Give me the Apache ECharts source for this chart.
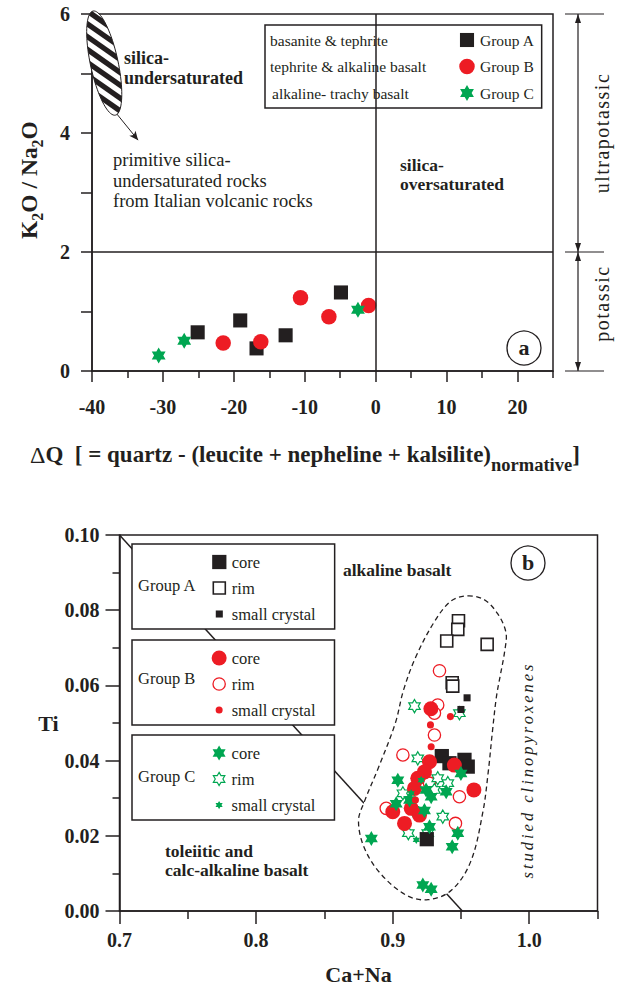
<!DOCTYPE html>
<html>
<head>
<meta charset="utf-8">
<title>K2O/Na2O vs ΔQ and Ti vs Ca+Na</title>
<script src="https://cdn.jsdelivr.net/npm/echarts@6.0.0/dist/echarts.min.js"></script>
<style>
  html, body { margin: 0; padding: 0; background: #fff; }
  #main { width: 617px; height: 987px; }
</style>
</head>
<body>
<div id="main"></div>
<script>
/* ---------- panel (a): K2O/Na2O against ΔQ ---------- */
const deltaQTicks = [-40, -30, -20, -10, 0, 10, 20];
const deltaQMinorTicks = [-35, -25, -15, -5, 5, 15, 25];

const groupA_dQ    = [-25.1, -19.1, -16.8, -12.7, -4.9];
const groupA_ratio = [0.65, 0.85, 0.38, 0.60, 1.32];
const groupB_dQ    = [-21.5, -16.2, -10.6, -6.6, -1.0];
const groupB_ratio = [0.47, 0.49, 1.23, 0.91, 1.10];
const groupC_dQ    = [-30.6, -27.0, -2.5];
const groupC_ratio = [0.26, 0.51, 1.03];

// field of the Italian primitive rocks: the two ends of its long axis
const italianFieldEnds = [[-39.85, 6.05], [-36.7, 4.3]];
const italianFieldPointer = [[-36.5, 4.32], [-33.5, 3.88]];
const potassicLimit = 2;    // K2O/Na2O boundary
const saturationLimit = 0;  // ΔQ boundary

/* ---------- panel (b): Ti against Ca+Na ---------- */
const caNaTicks = [0.7, 0.8, 0.9, 1.0];
const caNaMinorTicks = [0.75, 0.85, 0.95, 1.05];

const groupA_core_CaNa  = [0.936, 0.9416, 0.9526, 0.955, 0.925];
const groupA_core_Ti    = [0.0412, 0.0393, 0.0402, 0.0384, 0.0191];
const groupA_rim_CaNa   = [0.9482, 0.9477, 0.9396, 0.9692, 0.9436, 0.944];
const groupA_rim_Ti     = [0.0772, 0.0749, 0.0718, 0.0709, 0.0607, 0.0598];
const groupA_small_CaNa = [0.9545, 0.950];
const groupA_small_Ti   = [0.0567, 0.0536];

const groupB_core_CaNa  = [0.928, 0.927, 0.9233, 0.9184, 0.916, 0.9452, 0.9595, 0.9001, 0.9087, 0.9136, 0.9197];
const groupB_core_Ti    = [0.0538, 0.0397, 0.037, 0.0353, 0.0326, 0.0388, 0.0322, 0.0264, 0.0233, 0.0273, 0.0255];
const groupB_rim_CaNa   = [0.9343, 0.933, 0.9306, 0.9306, 0.9075, 0.8953, 0.9489, 0.946, 0.927];
const groupB_rim_Ti     = [0.0639, 0.0548, 0.0526, 0.0468, 0.0415, 0.0273, 0.0304, 0.0233, 0.034];
const groupB_small_CaNa = [0.9423, 0.9277, 0.9282, 0.9167];
const groupB_small_Ti   = [0.0517, 0.0495, 0.0437, 0.0295];

const groupC_core_CaNa  = [0.9038, 0.950, 0.9245, 0.9392, 0.9026, 0.9233, 0.9282, 0.9124, 0.927, 0.8844, 0.9477, 0.9436, 0.9221, 0.9282];
const groupC_core_Ti    = [0.0348, 0.0366, 0.0322, 0.0317, 0.0285, 0.0267, 0.0304, 0.0295, 0.0224, 0.0193, 0.0207, 0.0171, 0.0069, 0.0058];
const groupC_rim_CaNa   = [0.916, 0.9489, 0.9184, 0.933, 0.9367, 0.9115, 0.9148, 0.9257, 0.9075, 0.9404, 0.9306];
const groupC_rim_Ti     = [0.0545, 0.0526, 0.0406, 0.0353, 0.0251, 0.0207, 0.0269, 0.0207, 0.0313, 0.034, 0.0322];
const groupC_small_CaNa = [0.9173, 0.9258, 0.9209, 0.9136];
const groupC_small_Ti   = [0.0189, 0.0222, 0.0348, 0.0313];

// alkaline / tholeiitic divide
const divideCaNa = [0.70, 0.951];
const divideTi   = [0.10, 0.0];

// outline of the studied clinopyroxene field
const envelopeCaNa = [0.955, 0.967, 0.977, 0.983, 0.982, 0.979, 0.976, 0.973, 0.970, 0.966, 0.957, 0.943,
                      0.926, 0.910, 0.891, 0.879, 0.875, 0.879, 0.890, 0.902, 0.908, 0.917, 0.931, 0.943];
const envelopeTi   = [0.0838, 0.0828, 0.0790, 0.0740, 0.0690, 0.0630, 0.0570, 0.0475, 0.0370, 0.0262, 0.0130, 0.0055,
                      0.0030, 0.0042, 0.0100, 0.0170, 0.0240, 0.0288, 0.0385, 0.0500, 0.0588, 0.0676, 0.0772, 0.0825];

/* ---------- styling ---------- */
const SERIF = "'Liberation Serif','Times New Roman',serif";
const INK = '#231f20', RED = '#ed1c24', GREEN = '#00a651';

// symbols drawn inside a 100x100 box so that the same symbolSize gives different visible sizes
function boxPath(s) {
  const a = (50 - 50 * s).toFixed(2), b = (50 + 50 * s).toFixed(2);
  return `path://M0 0M100 100M${a} ${a}L${b} ${a}L${b} ${b}L${a} ${b}Z`;
}
function ringPath(s) {
  const r = 50 * s;
  return `path://M0 0M100 100M${50 + r} 50A${r} ${r} 0 1 1 ${50 - r} 50A${r} ${r} 0 1 1 ${50 + r} 50Z`;
}
function hexagram(s) {
  const pts = [];
  for (let k = 0; k < 12; k++) {
    const a = Math.PI / 2 - k * Math.PI / 6;
    const r = (k % 2 ? 1 / Math.sqrt(3) : 1) * 50 * s;
    pts.push((50 + r * Math.cos(a)).toFixed(2) + ' ' + (50 - r * Math.sin(a)).toFixed(2));
  }
  return 'path://M0 0M100 100M' + pts.join('L') + 'Z';
}
const zip = (xs, ys) => xs.map((x, i) => [x, ys[i]]);

function scatter(name, xs, ys, symbol, size, itemStyle, xi, yi) {
  return {
    type: 'scatter', name, xAxisIndex: xi, yAxisIndex: yi, z: 4,
    data: zip(xs, ys), symbol, symbolSize: size, symbolKeepAspect: true,
    itemStyle: Object.assign({ opacity: 1 }, itemStyle), silent: true, emphasis: { disabled: true }
  };
}

// clip a convex polygon by the half-plane sign*(p·n - c) >= 0
function clipHalf(poly, nx, ny, c, sign) {
  const out = [];
  for (let i = 0; i < poly.length; i++) {
    const A = poly[i], B = poly[(i + 1) % poly.length];
    const da = sign * (A[0] * nx + A[1] * ny - c), db = sign * (B[0] * nx + B[1] * ny - c);
    if (da >= 0) out.push(A);
    if ((da >= 0) !== (db >= 0)) {
      const t = da / (da - db);
      out.push([A[0] + t * (B[0] - A[0]), A[1] + t * (B[1] - A[1])]);
    }
  }
  return out;
}

function renderHatchedField(params, api) {
  const p1 = api.coord([api.value(0), api.value(1)]);
  const p2 = api.coord([api.value(2), api.value(3)]);
  const cx = (p1[0] + p2[0]) / 2, cy = (p1[1] + p2[1]) / 2;
  const a = Math.hypot(p2[0] - p1[0], p2[1] - p1[1]) / 2;
  const b = a * 0.26;
  const ux = (p2[0] - p1[0]) / (2 * a), uy = (p2[1] - p1[1]) / (2 * a);
  const vx = -uy, vy = ux;
  const outline = [];
  for (let i = 0; i < 80; i++) {
    const t = i / 80 * 2 * Math.PI;
    outline.push([cx + a * Math.cos(t) * ux + b * Math.sin(t) * vx,
                  cy + a * Math.cos(t) * uy + b * Math.sin(t) * vy]);
  }
  const ang = 35 * Math.PI / 180;
  const nx = -Math.sin(ang), ny = Math.cos(ang);
  const proj = outline.map(p => p[0] * nx + p[1] * ny);
  const lo = Math.min(...proj), hi = Math.max(...proj);
  const children = [{ type: 'polygon', shape: { points: outline }, style: { fill: '#fff' } }];
  for (let s = lo + 2; s < hi; s += 10.5) {
    let poly = clipHalf(outline, nx, ny, s, 1);
    poly = clipHalf(poly, nx, ny, s + 5.3, -1);
    if (poly.length > 2) children.push({ type: 'polygon', shape: { points: poly }, style: { fill: INK } });
  }
  children.push({ type: 'polygon', shape: { points: outline }, style: { fill: 'none', stroke: INK, lineWidth: 1 } });
  return { type: 'group', children };
}

function renderEnvelope(params, api) {
  if (params.dataIndex !== 0) return;
  const pts = envelopeCaNa.map((x, i) => api.coord([x, envelopeTi[i]]));
  return {
    type: 'polygon', shape: { points: pts, smooth: 0.35 },
    style: { fill: '#fff', stroke: INK, lineWidth: 1.3, lineDash: [5, 3.5] }
  };
}

const tickFont = { fontFamily: SERIF, fontWeight: 'bold', fontSize: 20, color: INK };
const inkLine = { color: INK, width: 1.5 };

const gridA = { left: 92, top: 14, width: 461, height: 357 };
const gridB = { left: 119.5, top: 535, width: 478, height: 376 };

/* ---------- free text and decoration ---------- */
function txt(x, y, text, size, extra) {
  return {
    type: 'text', x, y, z: 100,
    style: Object.assign({ text, fontFamily: SERIF, fontSize: size, fontWeight: 'normal', fill: INK,
      align: 'left', verticalAlign: 'middle' }, extra || {})
  };
}
function vtxt(x, y, text, size, extra) { // reads bottom to top
  const t = txt(x, y, text, size, Object.assign({ align: 'center' }, extra || {}));
  t.rotation = Math.PI / 2;
  return t;
}
const yTop = gridA.top, yBot = gridA.top + gridA.height;
const yMid = yBot - gridA.height * potassicLimit / 6;
const RX = 578, TL = 565, TR = 604;
function head(yTip, dir) { // dir -1: pointing up, +1: pointing down
  return { type: 'polygon', z: 100, shape: { points: [[RX, yTip], [RX - 3, yTip - dir * 9], [RX + 3, yTip - dir * 9]] },
    style: { fill: INK } };
}
const hLine = y => ({ type: 'line', z: 100, shape: { x1: TL, y1: y, x2: TR, y2: y }, style: { stroke: INK, lineWidth: 1.2 } });

const graphics = [
  // panel (a) titles
  { type: 'text', x: 30, y: 180, rotation: Math.PI / 2, z: 100,
    style: { text: '{b|K}{s|2}{b|O / Na}{s|2}{b|O}', align: 'center', verticalAlign: 'middle',
      rich: {
        b: { fontFamily: SERIF, fontSize: 23.5, fontWeight: 'bold', fill: INK, lineHeight: 26, verticalAlign: 'top' },
        s: { fontFamily: SERIF, fontSize: 16, fontWeight: 'bold', fill: INK, lineHeight: 16, padding: [12, 0, 0, 0], verticalAlign: 'top' }
      } } },
  { type: 'text', x: 30, y: 456, z: 100,
    style: { text: '{d|Δ}{b|Q\u00a0 [ = quartz - (leucite + nepheline + kalsilite)}{s|normative}{b|]}',
      align: 'left', verticalAlign: 'middle',
      rich: {
        d: { fontFamily: SERIF, fontSize: 24, fontWeight: 'normal', fill: INK, lineHeight: 26, verticalAlign: 'top' },
        b: { fontFamily: SERIF, fontSize: 23, fontWeight: 'bold', fill: INK, lineHeight: 26, verticalAlign: 'top' },
        s: { fontFamily: SERIF, fontSize: 18.5, fontWeight: 'bold', fill: INK, lineHeight: 18, padding: [12, 0, 0, 0], verticalAlign: 'top' }
      } } },
  // panel (a) annotations
  txt(124, 48, 'silica-\nundersaturated', 18, { fontWeight: 'bold', verticalAlign: 'top', lineHeight: 20 }),
  txt(113, 150, 'primitive silica-\nundersaturated rocks\nfrom Italian volcanic rocks', 18.5, { verticalAlign: 'top', lineHeight: 20.5 }),
  txt(400, 165, 'silica-', 17.5, { fontWeight: 'bold' }),
  txt(400, 184, 'oversaturated', 17.5, { fontWeight: 'bold' }),
  txt(270, 40, 'basanite & tephrite', 15.5),
  txt(270, 66.5, 'tephrite & alkaline basalt', 15.5),
  txt(272, 93, 'alkaline- trachy basalt', 15.5),
  { type: 'circle', z: 100, shape: { cx: 524, cy: 348, r: 17 }, style: { fill: 'none', stroke: INK, lineWidth: 1.3 } },
  txt(524, 347, 'a', 22, { fontWeight: 'bold', align: 'center' }),
  // potassic / ultrapotassic ranges
  hLine(yTop), hLine(yMid), hLine(yBot),
  { type: 'line', z: 100, shape: { x1: RX, y1: yTop, x2: RX, y2: yBot }, style: { stroke: INK, lineWidth: 1.2 } },
  head(yTop, -1), head(yMid, 1), head(yMid, -1), head(yBot, 1),
  vtxt(602, (yTop + yMid) / 2, 'ultrapotassic', 20),
  vtxt(602, (yMid + yBot) / 2 - 8, 'potassic', 20),
  // panel (b) annotations
  txt(343, 570, 'alkaline basalt', 17.5, { fontWeight: 'bold' }),
  txt(165, 841, 'toleiitic and\ncalc-alkaline basalt', 17.5, { fontWeight: 'bold', verticalAlign: 'top', lineHeight: 19.5 }),
  vtxt(527, 770, 'studied clinopyroxenes', 16.5, { fontStyle: 'italic' }),
  { type: 'circle', z: 100, shape: { cx: 528, cy: 563, r: 17 }, style: { fill: 'none', stroke: INK, lineWidth: 1.3 } },
  txt(528, 562, 'b', 22, { fontWeight: 'bold', align: 'center' }),
  txt(138, 585, 'Group A', 16.5),
  txt(138, 678, 'Group B', 16.5),
  txt(138, 776, 'Group C', 16.5)
];

/* ---------- legends ---------- */
const legendBase = {
  orient: 'vertical', selectedMode: false, itemWidth: 15, itemHeight: 15, itemGap: 9,
  borderColor: INK, borderWidth: 1.5, backgroundColor: '#fff', borderRadius: 0,
  itemStyle: { borderWidth: 'inherit' },
  textStyle: { fontFamily: SERIF, fontSize: 16.5, color: INK, lineHeight: 15 },
  formatter: n => n.replace(/^Group [ABC] /, '')
};
const legends = [
  { orient: 'vertical', selectedMode: false, left: 265, top: 25, itemWidth: 16, itemHeight: 16, itemGap: 10.5,
    padding: [7, 7, 7, 194], borderColor: INK, borderWidth: 1.5, backgroundColor: '#fff',
    itemStyle: { borderWidth: 'inherit' },
    textStyle: { fontFamily: SERIF, fontSize: 15.5, color: INK, lineHeight: 16 },
    data: ['Group A', 'Group B', 'Group C'] },
  Object.assign({}, legendBase, { left: 132, top: 544, padding: [9.5, 19, 6.5, 79],
    data: ['Group A core', 'Group A rim', 'Group A small crystal'] }),
  Object.assign({}, legendBase, { left: 132, top: 640, padding: [9.5, 19, 6.5, 79],
    data: ['Group B core', 'Group B rim', 'Group B small crystal'] }),
  Object.assign({}, legendBase, { left: 132, top: 735, padding: [9.5, 19, 6.5, 79],
    data: ['Group C core', 'Group C rim', 'Group C small crystal'] })
];

/* ---------- series ---------- */
const series = [
  // panel (a)
  { type: 'line', name: 'limits', xAxisIndex: 0, yAxisIndex: 0, data: [], silent: true, z: 2,
    markLine: { silent: true, symbol: 'none', animation: false, label: { show: false },
      lineStyle: { color: INK, width: 1.5, type: 'solid' },
      data: [
        { yAxis: potassicLimit },
        { xAxis: saturationLimit },
        [{ coord: italianFieldPointer[0], symbol: 'none', lineStyle: { width: 1, color: INK, type: 'solid' } },
         { coord: italianFieldPointer[1], symbol: 'arrow', symbolSize: [6, 9] }]
      ] } },
  { type: 'custom', name: 'Italian field', xAxisIndex: 0, yAxisIndex: 0, silent: true, z: 3,
    data: [[italianFieldEnds[0][0], italianFieldEnds[0][1], italianFieldEnds[1][0], italianFieldEnds[1][1]]],
    encode: { x: [0, 2], y: [1, 3] }, renderItem: renderHatchedField },
  scatter('Group A', groupA_dQ, groupA_ratio, boxPath(0.88), 16, { color: INK }, 0, 0),
  scatter('Group B', groupB_dQ, groupB_ratio, ringPath(0.97), 16, { color: RED }, 0, 0),
  scatter('Group C', groupC_dQ, groupC_ratio, hexagram(1), 16, { color: GREEN }, 0, 0),

  // panel (b)
  { type: 'line', name: 'divide', xAxisIndex: 2, yAxisIndex: 1, data: zip(divideCaNa, divideTi), z: 2,
    symbol: 'none', silent: true, lineStyle: { color: INK, width: 1.5 } },
  { type: 'custom', name: 'studied field', xAxisIndex: 2, yAxisIndex: 1, silent: true, z: 3,
    data: zip(envelopeCaNa, envelopeTi), renderItem: renderEnvelope },
  scatter('Group A rim', groupA_rim_CaNa, groupA_rim_Ti, boxPath(0.8), 15,
    { color: '#fff', borderColor: INK, borderWidth: 1.6 }, 2, 1),
  scatter('Group B rim', groupB_rim_CaNa, groupB_rim_Ti, ringPath(0.82), 15,
    { color: '#fff', borderColor: RED, borderWidth: 1.3 }, 2, 1),
  scatter('Group C rim', groupC_rim_CaNa, groupC_rim_Ti, hexagram(0.88), 15,
    { color: '#fff', borderColor: GREEN, borderWidth: 1.2 }, 2, 1),
  scatter('Group A core', groupA_core_CaNa, groupA_core_Ti, boxPath(0.95), 15, { color: INK }, 2, 1),
  scatter('Group B core', groupB_core_CaNa, groupB_core_Ti, ringPath(1), 15, { color: RED }, 2, 1),
  scatter('Group C core', groupC_core_CaNa, groupC_core_Ti, hexagram(1), 15, { color: GREEN }, 2, 1),
  scatter('Group A small crystal', groupA_small_CaNa, groupA_small_Ti, boxPath(0.47), 15, { color: INK }, 2, 1),
  scatter('Group B small crystal', groupB_small_CaNa, groupB_small_Ti, ringPath(0.47), 15, { color: RED }, 2, 1),
  scatter('Group C small crystal', groupC_small_CaNa, groupC_small_Ti, hexagram(0.55), 15, { color: GREEN }, 2, 1)
];

/* ---------- axes ---------- */
const noSplit = { show: false };
const option = {
  animation: false,
  backgroundColor: '#fff',
  grid: [
    Object.assign({ show: true, borderColor: INK, borderWidth: 1.5, backgroundColor: 'rgba(0,0,0,0)', outerBoundsMode: 'none', containLabel: false }, gridA),
    Object.assign({ show: true, borderColor: INK, borderWidth: 1.5, backgroundColor: 'rgba(0,0,0,0)', outerBoundsMode: 'none', containLabel: false }, gridB)
  ],
  xAxis: [
    { gridIndex: 0, type: 'value', min: -40, max: 25, position: 'bottom',
      axisLine: { show: true, onZero: false, lineStyle: inkLine },
      axisTick: { show: true, customValues: deltaQTicks, length: 11, lineStyle: inkLine },
      axisLabel: Object.assign({ show: true, customValues: deltaQTicks, margin: 26 }, tickFont),
      splitLine: noSplit },
    { gridIndex: 0, type: 'value', min: -40, max: 25, position: 'bottom',
      axisLine: { show: false, onZero: false },
      axisTick: { show: true, customValues: deltaQMinorTicks, length: 7, lineStyle: inkLine },
      axisLabel: { show: false }, splitLine: noSplit },
    { gridIndex: 1, type: 'value', min: 0.7, max: 1.05, position: 'bottom',
      axisLine: { show: true, onZero: false, lineStyle: inkLine },
      axisTick: { show: true, customValues: caNaTicks, length: 13, lineStyle: inkLine },
      axisLabel: Object.assign({ show: true, customValues: caNaTicks, margin: 19, formatter: v => v.toFixed(1) }, tickFont),
      name: 'Ca+Na', nameLocation: 'middle', nameGap: 52,
      nameTextStyle: { fontFamily: SERIF, fontWeight: 'bold', fontSize: 22, color: INK },
      splitLine: noSplit },
    { gridIndex: 1, type: 'value', min: 0.7, max: 1.05, position: 'bottom',
      axisLine: { show: false, onZero: false },
      axisTick: { show: true, customValues: caNaMinorTicks, length: 8, lineStyle: inkLine },
      axisLabel: { show: false }, splitLine: noSplit }
  ],
  yAxis: [
    { gridIndex: 0, type: 'value', min: 0, max: 6, interval: 1, position: 'left',
      axisLine: { show: true, onZero: false, lineStyle: inkLine },
      axisTick: { show: true, length: 11, lineStyle: inkLine },
      axisLabel: Object.assign({ margin: 22, formatter: v => (v % 2 === 0 ? String(v) : '') }, tickFont),
      splitLine: noSplit },
    { gridIndex: 1, type: 'value', min: 0, max: 0.1, interval: 0.02, position: 'left',
      axisLine: { show: true, onZero: false, lineStyle: inkLine },
      axisTick: { show: true, length: 14, lineStyle: inkLine },
      minorTick: { show: true, splitNumber: 2, length: 7, lineStyle: inkLine },
      axisLabel: Object.assign({ margin: 20, formatter: v => v.toFixed(2) }, tickFont),
      name: 'Ti', nameLocation: 'middle', nameRotate: 0, nameGap: 22,
      nameTextStyle: { fontFamily: SERIF, fontWeight: 'bold', fontSize: 22, color: INK },
      splitLine: noSplit }
  ],
  legend: legends,
  graphic: graphics,
  series
};

const chart = echarts.init(document.getElementById('main'), null, { renderer: 'svg' });
chart.setOption(option);

// spaced lettering for the rotated captions
document.querySelectorAll('#main text').forEach(t => {
  const s = t.textContent;
  if (s === 'studied clinopyroxenes') t.setAttribute('letter-spacing', '3');
  else if (s === 'ultrapotassic' || s === 'potassic') t.setAttribute('letter-spacing', '1.5');
});
</script>
</body>
</html>
